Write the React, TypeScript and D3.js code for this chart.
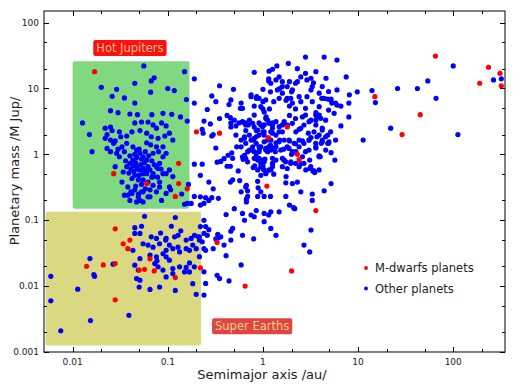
import React, { useRef, useEffect } from "react";
import * as d3 from "d3";

type Pt = [number, number];

// [semimajor axis (au), planetary mass (M Jup)]
const hotJupiters: Pt[] = [
  [0.056, 22], [0.15, 18], [0.072, 14.5], [0.067, 13], [0.045, 12], [0.02, 10.4], [0.029, 9.7],
  [0.066, 8.8], [0.1, 10], [0.117, 9.3], [0.026, 7.6], [0.035, 7.2], [0.045, 6], [0.157, 6.8],
  [0.0127, 3.0], [0.015, 2.0], [0.016, 1.1], [0.025, 4.6], [0.03, 4.3], [0.04, 4.1], [0.048, 4.0],
  [0.068, 4.0], [0.089, 4.2], [0.11, 4.05], [0.136, 3.7], [0.16, 3.2],
  [0.022, 2.5], [0.025, 2.6], [0.026, 2.3], [0.023, 2.0], [0.022, 1.75], [0.025, 1.65], [0.027, 1.47],
  [0.023, 1.23], [0.025, 1.1], [0.031, 2.2], [0.032, 1.85], [0.037, 1.9], [0.042, 2.2], [0.045, 3.0],
  [0.053, 3.1], [0.062, 3.1], [0.07, 2.8], [0.076, 2.5], [0.086, 3.0], [0.096, 2.7], [0.104, 2.1],
  [0.113, 1.65], [0.093, 1.9], [0.079, 1.75], [0.067, 1.85], [0.06, 2.1], [0.051, 2.3], [0.037, 1.47],
  [0.043, 1.3], [0.047, 1.16], [0.051, 1.04], [0.055, 0.92], [0.06, 0.82], [0.043, 0.82], [0.04, 0.73],
  [0.037, 0.65], [0.034, 0.54], [0.047, 0.65], [0.051, 0.58], [0.055, 0.51], [0.06, 0.51], [0.045, 0.48],
  [0.042, 0.43], [0.049, 0.41], [0.055, 0.41], [0.062, 0.38], [0.07, 0.51], [0.076, 0.65], [0.082, 0.73],
  [0.089, 0.92], [0.096, 1.04], [0.07, 1.04], [0.076, 1.3], [0.089, 1.3], [0.029, 1.04], [0.031, 0.92],
  [0.028, 0.65], [0.033, 0.38], [0.038, 0.32], [0.035, 0.24], [0.042, 0.255], [0.049, 0.227], [0.055, 0.27],
  [0.065, 0.227], [0.076, 0.27], [0.082, 0.32], [0.089, 0.51], [0.104, 0.58], [0.113, 0.46], [0.104, 0.32],
  [0.07, 0.34], [0.086, 0.2],
  [0.044, 0.55], [0.048, 0.6], [0.052, 0.7], [0.046, 0.75], [0.041, 0.6], [0.05, 0.48], [0.055, 0.62],
  [0.058, 0.56], [0.043, 0.68], [0.039, 0.52], [0.053, 0.85], [0.047, 0.9], [0.057, 0.75], [0.062, 0.65],
  [0.065, 0.58], [0.036, 0.8], [0.04, 0.95], [0.045, 1.0], [0.05, 1.2], [0.058, 1.1], [0.063, 0.95],
  [0.068, 0.8], [0.072, 0.7], [0.035, 1.1], [0.033, 1.3], [0.03, 1.2], [0.028, 1.6], [0.06, 1.5],
  [0.066, 1.4], [0.08, 1.1], [0.085, 0.6], [0.078, 0.45], [0.068, 0.45], [0.053, 0.35], [0.046, 0.33],
  [0.058, 0.3],
  [0.038, 0.24], [0.041, 0.27], [0.045, 0.29], [0.049, 0.25], [0.053, 0.27], [0.051, 0.2], [0.047, 0.19],
  [0.055, 0.19], [0.062, 0.227], [0.065, 0.29], [0.04, 0.2], [0.096, 0.255], [0.082, 0.38], [0.07, 0.46],
  [0.079, 0.61], [0.096, 0.51], [0.107, 0.29], [0.14, 0.25], [0.165, 0.35], [0.16, 0.18], [0.15, 0.175],
];

const warmPlanets: Pt[] = [
  [0.19, 14], [0.35, 11], [0.49, 9.7], [0.81, 17.6], [0.19, 6], [0.29, 7.7], [0.32, 6.3], [0.44, 5.7],
  [0.58, 5], [0.75, 7.5], [0.85, 7.1], [0.24, 3.2], [0.28, 2.9], [0.3, 2.0], [0.29, 1.9], [0.455, 3.6],
  [0.56, 3.0], [0.7, 2.8], [0.64, 1.85], [0.8, 1.65], [0.32, 1.25], [0.53, 1.3], [0.47, 1.05], [0.43, 0.97],
  [0.39, 0.86], [0.36, 0.78], [0.33, 0.76], [0.19, 0.71], [0.23, 0.71], [0.455, 0.66], [0.55, 0.56],
  [0.79, 0.63], [0.22, 0.48], [0.27, 0.38], [0.455, 0.38], [0.48, 0.41], [0.57, 0.4], [0.67, 0.34],
  [0.69, 0.28], [0.89, 0.31], [0.88, 0.39], [0.25, 0.22], [0.29, 0.22], [0.19, 0.23],
  [0.46, 6.7], [0.59, 6], [0.61, 5], [0.75, 8], [0.86, 7.5], [0.5, 3.3], [0.46, 2.6], [0.61, 3.1],
  [0.66, 2.3], [0.52, 1.96], [0.59, 1.65], [0.69, 1.1], [0.48, 0.87], [0.66, 0.87],
  [0.26, 4.8], [0.42, 3.9], [0.35, 3.5], [0.23, 2.4], [0.235, 2.1], [0.46, 3.0], [0.52, 2.7], [0.65, 3.0],
  [0.81, 2.6], [0.91, 1.96], [0.75, 1.65], [0.85, 1.47], [0.75, 1.16], [0.91, 1.1], [0.64, 0.97],
  [0.81, 0.87], [0.59, 1.3], [0.81, 3.95], [0.72, 3.3], [0.85, 2.3], [0.95, 2.8], [0.95, 5.3],
  [0.3, 0.3], [0.66, 0.32], [0.59, 0.27], [0.69, 0.23], [0.88, 0.23], [0.95, 0.27], [0.62, 0.84],
  [0.85, 0.87], [0.95, 0.73], [0.88, 0.58], [0.67, 0.21], [0.67, 0.19], [0.95, 1.3], [0.85, 1.04],
  [0.22, 0.227], [0.24, 0.18], [0.22, 0.17], [0.42, 0.66],
  [0.85, 0.14], [0.81, 0.113], [0.5, 0.15], [0.61, 0.127], [0.75, 0.12], [0.41, 0.122], [0.48, 0.075],
  [0.46, 0.068], [0.61, 0.059], [0.8, 0.052], [0.39, 0.042], [0.3, 0.037], [0.41, 0.029], [0.59, 0.021],
  [0.24, 0.1], [0.25, 0.08], [0.27, 0.072], [0.26, 0.059], [0.23, 0.047], [0.25, 0.035], [0.215, 0.028],
  [0.19, 0.0196], [0.64, 0.1], [0.46, 0.05], [0.25, 0.011], [0.24, 0.0073], [0.44, 0.012], [0.33, 0.0146],
];

const warmLow: Pt[] = [
  [0.35, 0.013], [0.24, 0.0165], [0.24, 0.037], [0.335, 0.061], [0.36, 0.056], [0.34, 0.054],
  [0.32, 0.052], [0.24, 0.063], [0.21, 0.056], [0.215, 0.05], [0.22, 0.08], [0.27, 0.2], [0.34, 0.215],
  [0.176, 0.18],
];

const coldGiants: Pt[] = [
  [1.26, 19.6], [1.4, 22], [1.85, 24], [2.8, 30], [4.4, 30], [6, 27], [2.3, 20], [2.8, 17], [3.6, 18],
  [7.5, 15], [1.15, 14], [1.15, 13], [1.6, 10.7], [1.9, 12.7], [2.3, 12.7], [2.9, 13.5], [4.2, 10.7],
  [4.6, 14.3], [3.4, 12.2], [1.0, 9.7], [1.2, 8.9], [1.5, 10], [2.0, 8.9], [2.4, 7.5], [3.2, 9.5],
  [5.2, 6.9], [4.15, 7.1], [6, 5.6], [6.6, 5.4], [8, 6], [9.8, 8.9], [8.1, 8], [14, 9.3], [15.2, 6.1],
  [26, 10], [42, 10], [54, 13], [100, 22], [66, 7.1], [265, 13.5], [320, 14], [22, 2.5], [11.3, 1.65],
  [112, 2.0], [8, 3.7], [6.6, 2.7], [5.7, 0.82], [5.2, 1.06], [4.8, 1.47], [4.8, 1.96], [4.2, 2.5],
  [3.9, 3.95], [3.6, 3.3], [5.6, 4.2], [4.8, 6.9], [5.3, 6.0], [3.6, 4.3], [2.8, 5], [2.5, 6.3],
  [1.96, 7.1], [1.75, 6.6], [1.48, 7.1], [1.3, 6.3], [0.91, 7.1], [0.81, 5.4], [1.0, 4.9], [1.17, 4.9],
  [1.9, 5.4], [2.2, 4.9], [2.2, 3.5], [1.9, 3.9], [2.6, 3.7], [3.1, 3.2], [1.08, 3.7], [0.91, 3.0],
  [1.26, 3.0], [1.6, 2.8], [2.4, 2.4], [3.0, 2.1], [3.7, 1.85], [4.1, 1.47], [3.2, 1.8], [2.6, 1.6],
  [2.2, 1.45], [1.9, 1.6], [1.5, 1.65], [1.26, 2.1], [1.0, 2.2], [0.85, 1.85], [0.78, 1.3], [0.92, 1.2],
  [1.15, 1.3], [1.35, 1.1], [1.65, 1.2], [2.0, 1.0], [2.8, 1.1], [3.6, 1.25], [3.9, 0.95], [3.1, 0.82],
  [2.5, 0.72], [1.96, 0.73], [1.6, 0.65], [1.26, 0.73], [1.0, 0.82], [0.85, 0.92], [0.82, 0.67],
  [1.08, 0.53], [1.3, 0.5], [1.75, 0.46], [3.35, 0.56], [3.5, 0.53], [1.2, 0.23],
  [1.03, 2.8], [1.12, 3.3], [1.03, 2.2], [1.03, 1.55], [1.2, 1.38], [1.12, 1.1], [1.03, 0.77],
  [1.07, 0.51], [0.95, 0.48], [1.0, 0.61], [1.21, 0.58], [1.0, 0.67], [1.16, 0.58], [1.26, 0.69],
  [1.05, 0.85], [1.67, 0.82], [1.96, 0.77], [2.2, 0.73], [2.7, 0.73], [3.1, 0.61], [3.45, 0.56], [1.8, 0.61],
  [4.0, 0.92], [1.03, 0.23], [1.74, 0.37], [2.04, 0.36], [2.3, 0.38], [2.5, 0.27], [1.74, 0.23], [3.3, 0.25],
  [3.3, 0.2], [5.2, 0.36], [4.4, 0.28], [1.9, 0.17], [2.1, 0.155], [1.15, 0.12], [1.48, 0.134],
  [1.37, 0.059], [3.2, 0.071], [2.7, 0.042], [3.1, 0.033], [2.16, 0.15], [1.03, 0.127], [1.21, 0.134],
  [1.03, 0.095], [1.21, 0.075],
  [1.0, 6.3], [1.07, 6.7], [1.03, 4.4], [1.07, 3.5], [1.16, 2.96], [1.26, 2.5], [1.37, 1.96], [1.48, 2.2],
  [1.21, 1.65], [1.37, 1.5], [1.67, 1.65], [1.8, 1.3], [1.54, 1.16], [1.26, 1.23], [1.07, 1.16],
  [1.26, 0.87], [2.04, 1.1], [2.4, 1.3], [3.05, 1.65], [3.6, 1.3], [4.2, 1.55], [4.56, 1.85], [4.9, 1.47],
  [5.8, 1.65], [5.15, 2.2], [4.2, 2.34], [3.6, 2.8], [3.2, 3.3], [2.8, 3.95], [3.7, 3.7], [4.56, 3.3],
  [4.9, 4.7], [3.9, 5.3], [3.3, 6.3], [2.9, 7.5], [2.04, 6], [1.8, 7.1], [1.6, 8.5], [1.42, 9.5],
  [1.21, 12], [1.37, 13.5], [1.48, 15], [1.6, 12.7], [1.8, 10.7], [2.04, 9.5], [2.2, 12], [2.5, 15],
  [3.2, 14.3], [3.3, 10.7], [3.9, 8.5], [4.4, 7.1], [5.15, 6.7], [5.8, 6], [4.9, 9], [6.0, 9.5],
  [1.16, 18.3],
];

const coldCore: Pt[] = [
  [0.61, 3.13], [0.66, 2.79], [0.78, 2.96], [0.64, 1.75], [0.72, 1.96], [0.81, 1.75], [0.88, 2.34],
  [0.99, 2.63], [1.03, 1.96], [1.12, 1.65], [1.21, 2.2], [1.26, 2.79], [1.37, 3.13], [1.48, 2.63],
  [1.6, 2.2], [1.67, 3.13], [1.81, 2.79], [2.04, 2.96], [2.22, 2.2], [2.5, 2.48], [2.7, 2.79], [3.05, 3.13],
  [3.59, 3.95], [4.05, 3.52], [3.44, 2.2], [3.89, 1.96], [3.05, 1.65], [2.7, 1.47], [2.4, 1.65],
  [2.13, 1.47], [1.88, 1.65], [1.48, 1.55], [1.37, 1.3], [1.21, 1.16], [1.07, 1.23], [0.91, 1.3],
  [0.81, 1.1], [0.72, 1.16], [0.66, 1.47], [0.61, 0.92], [0.69, 0.77], [0.88, 0.82], [0.95, 0.65],
  [1.03, 0.58], [1.26, 0.65], [1.37, 0.82], [1.6, 0.87], [1.74, 0.77], [2.04, 1.04], [1.88, 1.23],
  [2.22, 1.1], [2.6, 0.92], [3.05, 1.16], [3.59, 1.47], [4.2, 1.65], [4.57, 1.16], [4.94, 1.55],
  [3.89, 0.92], [3.18, 0.65], [2.82, 0.58], [3.89, 0.58], [2.4, 0.65], [1.67, 0.82], [0.91, 0.87],
];

const superEarths: Pt[] = [
  [0.0059, 0.0141], [0.0059, 0.006], [0.0075, 0.0021], [0.0113, 0.009], [0.0152, 0.0262], [0.0167, 0.015],
  [0.017, 0.0141], [0.0154, 0.003], [0.039, 0.0036], [0.0266, 0.0215],
  [0.057, 0.115], [0.12, 0.11], [0.045, 0.077], [0.053, 0.081], [0.109, 0.081], [0.137, 0.069],
  [0.045, 0.063], [0.051, 0.063], [0.084, 0.064], [0.067, 0.056], [0.076, 0.053], [0.096, 0.053],
  [0.118, 0.056], [0.128, 0.059], [0.055, 0.044], [0.062, 0.042], [0.07, 0.039], [0.082, 0.044],
  [0.095, 0.05], [0.104, 0.042], [0.113, 0.037], [0.133, 0.033], [0.096, 0.035], [0.089, 0.031],
  [0.076, 0.0278], [0.065, 0.0295], [0.043, 0.035], [0.051, 0.0262], [0.045, 0.0208], [0.049, 0.0175],
  [0.047, 0.013], [0.051, 0.0123], [0.05, 0.0097], [0.065, 0.0089], [0.082, 0.0097], [0.096, 0.0138],
  [0.089, 0.0175], [0.079, 0.0196], [0.113, 0.0185], [0.133, 0.0196], [0.104, 0.0248], [0.113, 0.0155],
  [0.128, 0.039], [0.156, 0.037], [0.169, 0.035], [0.183, 0.042], [0.199, 0.037], [0.215, 0.056],
  [0.176, 0.053], [0.156, 0.05], [0.191, 0.059], [0.12, 0.0086], [0.15, 0.0164], [0.169, 0.0164],
  [0.183, 0.0109], [0.199, 0.0075], [0.169, 0.0225], [0.156, 0.0192], [0.096, 0.0278], [0.077, 0.0242],
  [0.073, 0.022],
];

const mDwarfPlanets: Pt[] = [
  [0.017, 18], [0.2, 2.2], [0.35, 2.1], [0.13, 0.73], [0.027, 0.51], [0.06, 0.36], [0.13, 0.36],
  [0.16, 0.3], [0.12, 0.23], [65, 31], [235, 21], [310, 17], [320, 11], [190, 12], [15, 7.5], [45, 4],
  [29, 2], [1.8, 2.6], [1.14, 1.8], [2.3, 1.0], [2.4, 0.83], [1.1, 0.33], [3.6, 0.14], [2.0, 0.017],
  [0.028, 0.074], [0.04, 0.05], [0.034, 0.044], [0.038, 0.037], [0.065, 0.026], [0.028, 0.022],
  [0.021, 0.021], [0.014, 0.02], [0.05, 0.0175], [0.057, 0.018], [0.072, 0.017], [0.12, 0.0135],
  [0.22, 0.019], [0.33, 0.046], [0.028, 0.0062], [0.65, 0.01],
];

const xMajor = [0.01, 0.1, 1, 10, 100];
const xLabels = ["0.01", "0.1", "1", "10", "100"];
const xMinor = [0.02, 0.05, 0.2, 0.5, 2, 5, 20, 50, 200];
const yMajor = [0.001, 0.01, 0.1, 1, 10, 100];
const yLabels = ["0.001", "0.01", "0.1", "1", "10", "100"];
const yMinor = [0.002, 0.005, 0.02, 0.05, 0.2, 0.5, 2, 5, 20, 50];

// shaded regions: [a0, a1], [m0, m1], label anchor
const regions = [
  { name: "Hot Jupiters", a: [0.01, 0.169], m: [0.15, 26], fill: "#80d880", box: "#ff1010", text: "#f3c27e", la: 0.04, lm: 41 },
  { name: "Super Earths", a: [0.0052, 0.224], m: [0.00126, 0.134], fill: "#dad880", box: "#e04545", text: "#f2cf7e", la: 0.77, lm: 0.00246 },
];

const legendItems = [
  { name: "M-dwarfs planets", color: "#ff0000" },
  { name: "Other planets", color: "#0000ff" },
];

const W = 516;
const H = 390;
const FONT = "DejaVu Sans, sans-serif";

const App = () => {
  const svgRef = useRef<SVGSVGElement>(null);

  useEffect(() => {
    const svg = d3.select(svgRef.current);
    svg.selectAll("*").remove();

    const left = 44, right = 505, top = 11, bottom = 352;
    const x = d3.scaleLog().domain([0.005, 350]).range([left, right]);
    const y = d3.scaleLog().domain([0.001, 150]).range([bottom, top]);

    // Regions
    svg
      .selectAll(".region")
      .data(regions)
      .enter()
      .append("rect")
      .attr("x", (d) => x(d.a[0]))
      .attr("y", (d) => y(d.m[1]))
      .attr("width", (d) => x(d.a[1]) - x(d.a[0]))
      .attr("height", (d) => y(d.m[0]) - y(d.m[1]))
      .attr("rx", 2)
      .attr("fill", (d) => d.fill);

    // Points
    const others = [...hotJupiters, ...warmPlanets, ...warmLow, ...coldGiants, ...coldCore, ...superEarths];
    svg
      .append("g")
      .selectAll("circle")
      .data(others)
      .enter()
      .append("circle")
      .attr("cx", (d) => x(d[0]))
      .attr("cy", (d) => y(d[1]))
      .attr("r", 2.6)
      .attr("fill", "#0000ff");
    svg
      .append("g")
      .selectAll("circle")
      .data(mDwarfPlanets)
      .enter()
      .append("circle")
      .attr("cx", (d) => x(d[0]))
      .attr("cy", (d) => y(d[1]))
      .attr("r", 2.6)
      .attr("fill", "#ff0000");

    // Region labels
    regions.forEach((r) => {
      const g = svg.append("g");
      const t = g
        .append("text")
        .attr("x", x(r.la))
        .attr("y", y(r.lm))
        .attr("dy", "0.36em")
        .attr("text-anchor", "middle")
        .attr("font-family", FONT)
        .attr("font-size", 11.5)
        .attr("fill", r.text)
        .text(r.name);
      const bb = (t.node() as SVGTextElement).getBBox();
      g.insert("rect", "text")
        .attr("x", bb.x - 3)
        .attr("y", y(r.lm) - 8)
        .attr("width", bb.width + 6)
        .attr("height", 16)
        .attr("rx", 2)
        .attr("fill", r.box);
    });

    // Frame
    svg
      .append("rect")
      .attr("x", left)
      .attr("y", top)
      .attr("width", right - left)
      .attr("height", bottom - top)
      .attr("fill", "none")
      .attr("stroke", "#000")
      .attr("stroke-width", 1);

    // Ticks (inward, all four sides)
    const ticks = svg.append("g").attr("stroke", "#000").attr("stroke-width", 1);
    const xt = [...xMajor.map((v) => ({ v, len: 5 })), ...xMinor.map((v) => ({ v, len: 3 }))];
    const yt = [...yMajor.map((v) => ({ v, len: 5 })), ...yMinor.map((v) => ({ v, len: 3 }))];
    xt.forEach((t) => {
      const px = Math.round(x(t.v)) + 0.5;
      ticks.append("line").attr("x1", px).attr("x2", px).attr("y1", bottom).attr("y2", bottom - t.len);
      ticks.append("line").attr("x1", px).attr("x2", px).attr("y1", top).attr("y2", top + t.len);
    });
    yt.forEach((t) => {
      const py = Math.round(y(t.v)) + 0.5;
      ticks.append("line").attr("x1", left).attr("x2", left + t.len).attr("y1", py).attr("y2", py);
      ticks.append("line").attr("x1", right).attr("x2", right - t.len).attr("y1", py).attr("y2", py);
    });

    // Tick labels
    svg
      .selectAll(".xlab")
      .data(xMajor)
      .enter()
      .append("text")
      .attr("x", (d) => x(d))
      .attr("y", 365)
      .attr("text-anchor", "middle")
      .attr("font-family", FONT)
      .attr("font-size", 9)
      .attr("fill", "#222")
      .text((d, i) => xLabels[i]);
    svg
      .selectAll(".ylab")
      .data(yMajor)
      .enter()
      .append("text")
      .attr("x", 39)
      .attr("y", (d) => y(d))
      .attr("dy", "0.35em")
      .attr("text-anchor", "end")
      .attr("font-family", FONT)
      .attr("font-size", 9)
      .attr("fill", "#222")
      .text((d, i) => yLabels[i]);

    // Axis titles
    svg
      .append("text")
      .attr("x", 262)
      .attr("y", 379)
      .attr("text-anchor", "middle")
      .attr("font-family", FONT)
      .attr("font-size", 13)
      .attr("fill", "#222")
      .text("Semimajor axis /au/");
    svg
      .append("text")
      .attr("transform", "translate(18.5,171) rotate(-90)")
      .attr("text-anchor", "middle")
      .attr("font-family", FONT)
      .attr("font-size", 13)
      .attr("fill", "#222")
      .text("Planetary mass /M Jup/");

    // Legend
    const legend = svg.append("g").attr("transform", "translate(366,268)");
    legend
      .selectAll("circle")
      .data(legendItems)
      .enter()
      .append("circle")
      .attr("cx", 0)
      .attr("cy", (d, i) => i * 20.5)
      .attr("r", 1.9)
      .attr("fill", (d) => d.color);
    legend
      .selectAll("text")
      .data(legendItems)
      .enter()
      .append("text")
      .attr("x", 9)
      .attr("y", (d, i) => i * 20.5)
      .attr("dy", "0.35em")
      .attr("font-family", FONT)
      .attr("font-size", 11.5)
      .attr("fill", "#222")
      .text((d) => d.name);
  }, []);

  return (
    <div style={{ position: "absolute", left: 0, top: 0, width: W, height: H, background: "#fff" }}>
      <svg ref={svgRef} width={W} height={H} style={{ display: "block" }} />
    </div>
  );
};

export default App;
